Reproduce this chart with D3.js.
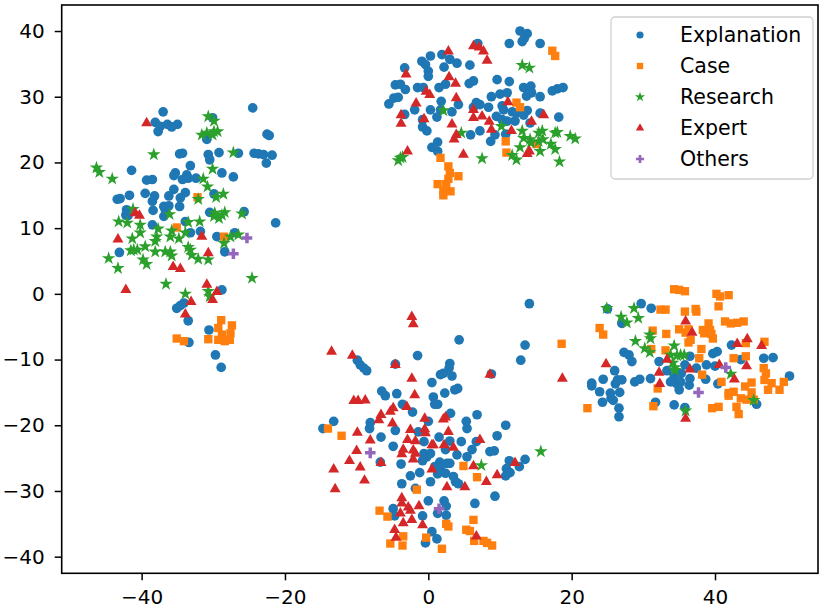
<!DOCTYPE html>
<html>
<head>
<meta charset="utf-8">
<script src="https://cdn.jsdelivr.net/npm/d3@7"></script>
<style>
body { margin: 0; background: #fff; }
text { font-family: "DejaVu Sans", sans-serif; }
</style>
</head>
<body>
<div id="canvas"></div>
<script>
"use strict"

/* Data: [x, y] per category */
let explanation = [
[-37.0,27.7],[-24.5,28.3],[-38.1,26.1],[-37.4,25.5],[-36.4,25.8],[-35.8,25.4],[-35.0,25.8],[-37.7,24.7],
[-30.1,26.8],[-30.9,23.5],[-22.5,24.3],[-22.2,24.1],[-34.7,21.3],[-34.3,21.4],[-30.7,21.2],[-30.5,20.4],
[-29.2,21.5],[-26.5,21.4],[-24.3,21.4],[-23.7,21.3],[-23.0,21.2],[-21.8,21.1],[-22.6,19.9],[-33.2,19.5],
[-41.4,18.8],[-35.3,18.4],[-35.5,18.0],[-39.3,17.3],[-38.5,17.4],[-33.7,18.1],[-34.3,17.4],[-33.5,17.6],
[-32.4,17.6],[-28.8,18.4],[-27.2,17.8],[-35.5,15.9],[-36.2,14.9],[-33.9,15.4],[-39.5,15.3],[-38.2,14.9],
[-43.4,14.4],[-43.0,14.5],[-41.7,15.0],[-38.5,14.1],[-34.6,14.6],[-34.7,13.3],[-36.9,13.3],[-36.2,13.4],
[-36.7,12.8],[-29.9,15.2],[-38.4,12.7],[-42.1,12.8],[-42.2,12.0],[-41.9,11.9],[-30.5,12.4],[-25.7,12.5],
[-36.9,11.8],[-38.5,10.5],[-33.9,11.0],[-21.3,10.8],[-33.2,9.3],[-31.8,9.5],[-29.5,8.7],[-27.0,9.3],
[-43.1,6.3],[-28.8,0.6],[-28.4,6.4],[-35.1,-2.2],[-34.6,-1.8],[-34.1,-1.4],[-33.5,-4.1],[-30.6,-5.5],
[-33.4,-7.4],[-29.7,-9.3],[-28.9,-11.2],
[0.3,36.2],[1.9,36.4],[-0.9,35.4],[-0.4,34.9],[0.0,33.9],[0.0,33.1],[3.0,35.7],[4.0,35.1],[2.2,34.5],
[5.8,34.8],[-3.3,34.4],[-4.6,31.8],[-3.9,31.9],[-3.2,31.1],[-1.5,31.4],[-0.7,31.4],[1.5,31.4],[2.4,31.9],
[5.7,32.0],[6.3,32.4],[-4.8,29.8],[-5.5,28.9],[-4.2,29.9],[1.8,29.3],[4.2,28.8],[6.3,28.4],[-1.9,28.0],
[0.3,28.0],[-3.3,27.3],[1.7,28.0],[3.3,27.7],[1.2,26.9],[-0.8,26.5],[-0.8,25.4],[-0.2,24.8],[5.9,24.2],
[1.3,23.1],[0.5,22.3],[1.3,21.7],[12.8,40.0],[13.8,39.6],[13.4,38.9],[13.1,38.4],[11.3,38.1],[15.6,38.1],
[6.9,38.1],[9.6,32.6],[11.3,32.3],[13.3,31.4],[14.3,31.6],[14.0,30.9],[13.7,30.1],[14.4,30.6],[17.3,30.9],
[18.0,31.2],[18.8,31.4],[15.6,30.0],[8.8,30.0],[10.0,30.4],[11.0,30.6],[6.7,29.1],[7.2,28.8],[8.4,28.4],
[10.3,28.6],[10.5,28.0],[11.7,27.7],[12.3,27.5],[13.8,27.9],[13.3,27.2],[15.6,27.5],[18.2,26.9],[9.5,27.0],
[10.3,26.5],[11.0,26.3],[12.1,26.3],[7.2,24.8],[9.3,24.2],[10.8,24.3],[8.7,23.2],[14.2,26.0],
[-1.5,-9.4],[-9.9,-10.1],[-9.5,-10.8],[-9.0,-11.3],[-8.6,-11.7],[-4.6,-10.7],[0.5,-13.5],[-6.5,-14.8],
[-6.0,-15.5],[-4.4,-15.2],[0.7,-15.7],[-3.6,-16.8],[-2.2,-18.0],[0.9,-16.8],[-13.2,-19.4],[-8.1,-19.6],
[0.0,-19.4],[14.1,-1.5],[4.3,-7.0],[13.5,-7.8],[12.9,-10.1],[8.8,-12.2],[3.0,-10.6],[2.9,-11.3],[2.1,-12.1],
[1.7,-12.3],[3.3,-12.5],[4.1,-14.4],[3.7,-14.6],[2.3,-15.1],[1.3,-16.8],[3.1,-18.2],[6.8,-18.4],[5.3,-19.4],
[10.8,-20.0],[-14.7,-20.5],[-8.2,-20.5],[-6.6,-21.8],[-4.6,-20.8],[-4.9,-23.2],[-1.4,-21.0],[-0.6,-22.5],
[-0.6,-24.3],[-0.2,-24.8],[-0.8,-25.4],[0.3,-24.3],[-6.7,-25.6],[-3.8,-25.9],[-1.2,-27.2],[-2.5,-27.7],
[-3.7,-28.9],[0.3,-28.6],[-1.8,-29.6],[0.0,-31.5],[-4.9,-32.7],[-0.8,-33.8],[-4.7,-33.8],[0.5,-36.2],
[-0.4,-37.9],[5.4,-20.5],[9.6,-21.6],[1.5,-21.8],[3.0,-22.4],[2.4,-23.7],[4.6,-22.5],[6.7,-22.5],[6.1,-23.7],
[4.0,-24.5],[5.4,-24.8],[8.6,-24.0],[9.2,-23.9],[1.6,-25.6],[3.0,-25.8],[0.9,-26.3],[1.7,-26.6],[2.6,-25.8],
[11.3,-25.4],[13.5,-25.2],[12.7,-26.3],[10.9,-26.6],[11.4,-27.2],[10.8,-27.7],[2.4,-27.3],[1.3,-27.4],
[3.5,-27.8],[3.8,-28.6],[4.2,-28.9],[9.3,-30.8],[6.5,-31.9],[2.2,-31.5],[2.5,-32.3],[1.3,-33.4],[2.5,-33.7],
[1.2,-37.3],
[29.7,-1.5],[31.1,-2.2],[25.0,-2.3],[27.0,-4.5],[27.3,-8.9],[28.0,-9.3],[28.4,-10.3],[32.2,-10.3],
[26.0,-11.7],[33.3,-11.7],[24.4,-13.0],[22.8,-13.6],[22.8,-14.0],[26.4,-13.1],[27.0,-13.1],[26.1,-13.7],
[28.8,-13.4],[29.5,-13.0],[31.0,-12.9],[33.8,-13.4],[34.3,-12.5],[23.9,-14.9],[25.4,-15.1],[25.5,-15.9],
[25.8,-16.2],[26.7,-15.0],[24.3,-16.5],[26.6,-17.4],[26.6,-18.7],[31.7,-16.5],[34.3,-16.9],[35.0,-14.6],
[34.6,-13.6],[42.3,-7.8],[39.7,-9.1],[40.3,-8.8],[43.6,-10.0],[46.8,-9.8],[48.1,-9.7],[36.5,-9.5],
[35.8,-10.8],[37.4,-11.3],[38.8,-10.8],[40.0,-11.0],[35.3,-12.1],[36.5,-12.9],[35.2,-13.4],[36.4,-13.9],
[38.7,-13.0],[40.4,-13.7],[50.4,-12.5],[35.8,-17.3],[45.8,-16.8]
];

let caseData = [
[-32.2,14.7],[-35.1,10.1],[-28.5,8.7],[-35.1,-6.8],[-34.1,-7.2],[-30.7,-6.9],[-28.9,-4.0],[-27.4,-4.8],
[-29.3,-5.2],[-28.8,-6.2],[-27.6,-6.0],[-29.3,-7.0],[-28.4,-7.2],[-27.7,-7.0],
[1.7,20.7],[2.8,19.4],[3.0,18.4],[4.2,17.9],[2.8,17.5],[1.3,16.7],[2.5,16.7],[2.1,15.6],[3.1,15.6],
[2.1,15.0],[17.3,37.0],[17.7,36.2],[12.3,29.1],[12.8,28.4],[10.8,23.2],[10.9,21.5],[15.1,22.8],
[-14.0,-20.5],[-12.1,-21.6],[-1.6,-29.8],[-6.8,-33.0],[-5.7,-33.9],[-3.5,-36.9],[-5.3,-38.0],[-3.6,-38.3],
[-0.3,-37.1],[4.9,-26.2],[6.8,-27.9],[6.3,-34.4],[2.5,-35.0],[2.8,-35.4],[5.3,-35.9],[5.8,-36.1],
[6.4,-37.6],[7.7,-37.6],[8.2,-37.9],[8.9,-38.3],[1.9,-38.8],
[34.3,0.7],[32.4,-2.4],[33.1,-2.4],[23.9,-5.2],[24.4,-6.2],[31.3,-5.6],[33.2,-6.1],[35.0,-5.4],[18.6,-7.6],
[33.1,-8.6],[31.1,-8.4],[32.0,-14.4],[31.4,-17.1],[22.2,-17.4],[35.0,0.6],[35.8,0.4],[40.2,0.0],[40.7,-0.4],
[41.9,-0.2],[40.5,-1.9],[35.8,-2.7],[37.3,-2.3],[37.4,-2.7],[41.4,-4.2],[42.2,-4.5],[43.1,-4.4],[44.0,-4.2],
[39.1,-4.5],[39.3,-5.5],[38.3,-5.5],[38.5,-6.0],[39.5,-6.1],[39.7,-6.8],[35.9,-5.9],[36.3,-5.4],[36.6,-7.0],
[36.3,-7.4],[38.1,-8.4],[37.8,-9.8],[44.3,-7.5],[46.9,-7.3],[44.3,-9.5],[42.6,-9.8],[38.2,-12.3],
[40.9,-13.4],[46.8,-11.3],[47.1,-12.1],[46.9,-13.1],[47.9,-13.6],[47.4,-14.6],[49.0,-14.6],[49.6,-13.4],
[44.2,-14.1],[45.1,-13.5],[45.1,-15.0],[43.6,-15.9],[44.4,-16.1],[45.4,-16.1],[41.9,-15.1],[42.6,-14.9],
[41.9,-15.5],[39.6,-17.4],[40.5,-17.2],[43.0,-17.2],[43.3,-18.3]
];

let research = [
[-30.7,27.0],[-29.9,26.3],[-31.6,24.2],[-30.9,24.5],[-30.1,24.2],[-29.4,24.7],[-29.9,24.7],[-38.3,21.2],
[-27.2,21.5],[-46.3,19.2],[-45.9,18.5],[-44.1,17.5],[-30.1,19.0],[-31.4,17.5],[-30.8,16.3],[-28.6,15.2],
[-29.6,14.7],[-32.1,14.4],[-29.8,12.3],[-28.8,12.0],[-28.4,12.4],[-29.9,11.8],[-29.2,11.5],[-26.0,12.2],
[-41.2,12.9],[-36.1,12.1],[-43.2,11.0],[-42.0,10.8],[-40.2,10.5],[-40.2,9.3],[-37.7,9.9],[-37.9,8.7],
[-35.8,9.6],[-33.9,9.3],[-33.5,10.9],[-31.9,11.0],[-36.0,8.7],[-26.5,9.0],[-27.6,8.7],
[-41.3,8.4],[-41.1,6.7],[-40.6,6.7],[-41.5,6.6],[-39.5,7.2],[-38.1,8.0],[-38.1,6.4],[-36.7,6.4],
[-36.0,6.4],[-35.8,5.8],[-34.8,8.4],[-33.5,7.1],[-33.2,6.7],[-33.0,5.9],[-32.1,5.3],[-30.7,5.2],
[-44.6,5.4],[-43.3,3.9],[-39.8,5.2],[-39.3,4.5],[-36.6,1.5],[-33.9,0.0],[-30.7,0.4],[-30.5,-0.4],
[-24.6,2.4],[-28.5,7.7],
[2.1,27.9],[4.6,24.5],[-3.9,20.7],[-4.2,20.3],[-3.6,20.8],[13.1,34.8],[14.1,34.4],[10.2,25.5],[13.1,24.8],
[13.3,23.7],[14.2,23.5],[15.4,24.5],[15.9,24.8],[15.4,23.2],[16.0,23.5],[14.3,23.0],[17.1,22.8],[17.7,24.5],
[18.0,24.6],[12.8,22.3],[15.6,21.7],[17.7,22.0],[19.8,24.0],[20.5,23.6],[11.7,21.1],[12.3,20.4],[7.5,20.6],
[18.3,20.1],
[7.4,-26.1],[15.7,-24.0],
[24.9,-2.2],[26.9,-3.5],[27.7,-4.4],[28.7,-2.2],[29.3,-3.7],[30.9,-6.2],[31.0,-6.8],[28.9,-7.2],[30.2,-8.3],
[30.9,-8.9],[34.3,-7.9],[33.8,-9.3],[34.7,-9.4],[34.1,-10.5],[34.4,-11.2],[34.4,-11.6],[35.2,-9.3],
[35.7,-9.3],[42.2,-12.2],[45.4,-16.2],[35.9,-17.8]
];

let expert = [
[-39.3,26.0],[-40.9,12.3],[-40.3,11.9],[-31.6,8.7],[-43.3,8.3],[-30.7,6.2],[-35.6,4.1],[-34.6,3.8],
[-42.2,0.6],[-30.9,1.4],[-29.5,0.3],[-30.1,-0.9],[-33.1,-1.2],[-33.9,-3.1],
[2.8,36.9],[6.3,37.7],[-3.1,33.4],[2.9,33.0],[3.8,32.0],[-0.3,30.8],[0.2,30.3],[3.9,29.8],[-1.7,29.0],
[-3.8,27.2],[-3.8,25.9],[-0.6,26.6],[3.3,25.8],[3.9,24.2],[3.6,23.5],[-2.9,21.7],[4.9,21.2],[7.1,37.5],
[7.7,36.9],[8.2,35.5],[11.1,29.2],[6.3,28.0],[7.5,27.0],[6.3,26.8],[8.5,26.2],[8.8,25.0],[14.4,26.2],
[16.1,27.2],[11.6,24.8],[14.1,21.7],[13.8,21.3],
[-2.3,-3.5],[-2.1,-4.6],[-13.5,-8.8],[-10.6,-9.4],[-4.6,-10.8],[-2.3,-12.9],[-1.9,-15.4],[-10.4,-16.3],
[-9.8,-16.3],[-8.8,-16.2],[-5.3,-17.9],[-4.9,-17.4],[-3.0,-17.2],[-6.6,-18.4],[-6.9,-19.2],[-5.0,-19.7],
[-0.5,-19.0],[8.6,-12.3],[2.4,-18.8],[2.1,-19.1],[-9.9,-21.1],[-8.1,-22.3],[-2.5,-20.7],[-0.5,-20.6],
[-0.4,-21.2],[-2.9,-22.2],[-1.8,-22.4],[-3.5,-23.7],[-3.7,-24.4],[-2.1,-23.8],[-1.8,-24.3],[-2.1,-25.2],
[0.5,-23.0],[-10.0,-23.9],[-11.0,-25.4],[-6.6,-25.7],[-9.5,-26.4],[-13.2,-26.7],[-8.9,-28.4],[-13.0,-29.7],
[0.5,-26.7],[-3.7,-31.1],[-3.7,-31.9],[-2.8,-32.5],[-3.9,-33.4],[-2.5,-33.0],[-2.3,-34.4],[-3.5,-34.9],
[-1.3,-32.3],[-0.8,-35.2],[-4.7,-35.9],[-4.5,-37.1],[2.8,-21.0],[7.2,-22.2],[0.7,-23.0],[2.2,-23.0],
[3.5,-23.4],[12.1,-25.7],[6.3,-26.2],[9.6,-27.6],[8.1,-28.6],[2.6,-29.4],[5.1,-29.4],[6.7,-36.9],
[24.8,-10.7],[18.7,-12.9],[33.3,-10.0],[32.2,-12.0],[32.3,-13.7],[35.9,-4.2],[36.8,-5.9],[43.1,-7.6],
[44.5,-6.9],[46.5,-7.9],[40.6,-10.8],[44.4,-11.0],[36.5,-11.5],[42.7,-13.0],[35.9,-19.0]
];

let others = [
[-25.3,8.5],[-27.2,6.1],[-8.1,-24.2],[1.5,-32.7],[41.5,-11.2],[37.7,-15.0]
];

let categories = ["Explanation", "Case", "Research", "Expert", "Others"];
let seriesData = [explanation, caseData, research, expert, others];
let colors = ["#1f77b4", "#ff7f0e", "#2ca02c", "#d62728", "#9467bd"];
let xTicks = [-40, -20, 0, 20, 40];
let yTicks = [-40, -30, -20, -10, 0, 10, 20, 30, 40];

/* Configuration: drawing */
let svgWidth = 831;
let svgHeight = 610;
let plotLeft = 61.7, plotRight = 818, plotTop = 5, plotBottom = 573.3;

let symbols = [d3.symbolCircle, d3.symbolSquare, d3.symbolStar, d3.symbolTriangle, d3.symbolCross];
let symbolSizes = [74, 70, 56, 52, 62];
let legendSizes = [40, 40, 32, 30, 36];

let svg = d3.select("#canvas")
    .append("svg")
    .attr("width", svgWidth)
    .attr("height", svgHeight);

let xScale = d3.scaleLinear()
    .domain([-51.15, 54.37])
    .range([plotLeft, plotRight]);

let yScale = d3.scaleLinear()
    .domain([-42.53, 43.96])
    .range([plotBottom, plotTop]);

let minusFormat = d => d < 0 ? "\u2212" + Math.abs(d) : String(d);

/* Points, one layer per category in plotting order */
seriesData.forEach(function (data, i) {
    svg.append("g")
        .selectAll("path")
        .data(data)
        .join("path")
        .attr("d", d3.symbol().type(symbols[i]).size(symbolSizes[i]))
        .attr("transform", d => "translate(" + xScale(d[0]) + "," + yScale(d[1]) + ")")
        .attr("fill", colors[i]);
});

/* Axes */
let xAxis = svg.append("g")
    .attr("transform", "translate(0," + plotBottom + ")")
    .call(d3.axisBottom(xScale).tickValues(xTicks).tickFormat(minusFormat)
        .tickSize(7).tickSizeOuter(0).tickPadding(10));

let yAxis = svg.append("g")
    .attr("transform", "translate(" + plotLeft + ",0)")
    .call(d3.axisLeft(yScale).tickValues(yTicks).tickFormat(minusFormat)
        .tickSize(7).tickSizeOuter(0).tickPadding(10));

[xAxis, yAxis].forEach(function (ax) {
    ax.select(".domain").remove();
    ax.selectAll(".tick line").attr("stroke", "#000").attr("stroke-width", 1.5);
    ax.selectAll(".tick text")
        .attr("fill", "#000")
        .style("font-family", "'DejaVu Sans', sans-serif")
        .style("font-size", "20px");
});

/* Frame */
svg.append("rect")
    .attr("x", plotLeft)
    .attr("y", plotTop)
    .attr("width", plotRight - plotLeft)
    .attr("height", plotBottom - plotTop)
    .attr("fill", "none")
    .attr("stroke", "#000")
    .attr("stroke-width", 1.6);

/* Legend */
let legend = svg.append("g");

legend.append("rect")
    .attr("x", 611)
    .attr("y", 17)
    .attr("width", 202)
    .attr("height", 162)
    .attr("rx", 4)
    .attr("fill", "#fff")
    .attr("fill-opacity", 0.8)
    .attr("stroke", "#d0d0d0")
    .attr("stroke-width", 1.3);

for (let i = 0; i < categories.length; i++) {
    let rowY = 35 + i * 31;
    legend.append("path")
        .attr("d", d3.symbol().type(symbols[i]).size(legendSizes[i]))
        .attr("transform", "translate(640," + rowY + ")")
        .attr("fill", colors[i]);
    legend.append("text")
        .attr("x", 680)
        .attr("y", rowY)
        .attr("dominant-baseline", "central")
        .style("font-size", "20.5px")
        .text(categories[i]);
}
</script>
</body>
</html>
